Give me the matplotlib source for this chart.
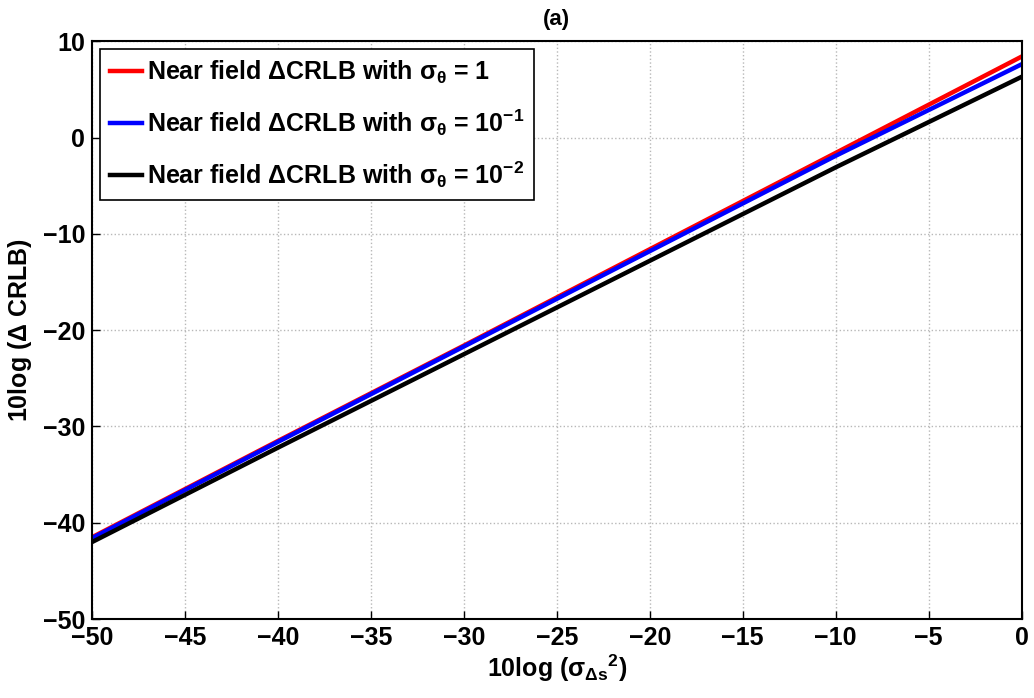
import matplotlib
matplotlib.use("Agg")
import matplotlib.pyplot as plt

plt.rcParams['font.family'] = ['Liberation Sans', 'DejaVu Sans']
plt.rcParams['font.weight'] = 'bold'
plt.rcParams['mathtext.fontset'] = 'custom'
plt.rcParams['mathtext.rm'] = 'Liberation Sans:bold'
plt.rcParams['mathtext.it'] = 'Liberation Sans:bold'
plt.rcParams['mathtext.bf'] = 'Liberation Sans:bold'
plt.rcParams['mathtext.sf'] = 'Liberation Sans:bold'

# values
x = [-50, -40, -30, -20, -10, 0]
crlb_s1 = [-41.5, -31.5, -21.6, -11.6, -1.6, 8.4]
crlb_s01 = [-41.6, -31.6, -21.7, -11.8, -1.9, 7.6]
crlb_s001 = [-42.0, -32.2, -22.5, -12.8, -3.1, 6.3]

labels = [r'Near field $\Delta$CRLB with $\sigma_\theta$ = 1',
          r'Near field $\Delta$CRLB with $\sigma_\theta$ = 10$^{-1}$',
          r'Near field $\Delta$CRLB with $\sigma_\theta$ = 10$^{-2}$']

fig = plt.figure(figsize=(10.34, 6.98), dpi=100)
ax = fig.add_axes([0.089, 0.113, 0.899, 0.828])

ax.plot(x, crlb_s1, color='red', lw=3.2, label=labels[0])
ax.plot(x, crlb_s01, color='blue', lw=3.2, label=labels[1])
ax.plot(x, crlb_s001, color='black', lw=3.2, label=labels[2])

ax.set_xlim(-50, 0)
ax.set_ylim(-50, 10)
ax.set_xticks(range(-50, 1, 5))
ax.set_yticks(range(-50, 11, 10))
ax.tick_params(direction='in', labelsize=18, length=6, width=1, pad=5)
for lab in ax.get_xticklabels() + ax.get_yticklabels():
    lab.set_fontweight('bold')
ax.grid(True, linestyle=':', color='#b8b8b8', lw=1)
for s in ax.spines.values():
    s.set_linewidth(1.5)

ax.set_xlabel(r'10log ($\sigma_{\Delta s}{}^2$)', fontsize=18, fontweight='bold', labelpad=2)
ax.set_ylabel(r'10log ($\Delta$ CRLB)', fontsize=18, fontweight='bold', labelpad=6)
ax.set_title('(a)', fontsize=16, fontweight='bold', pad=12)

leg = ax.legend(loc='upper left', fontsize=18, handlelength=1.3, handletextpad=0.2,
                borderaxespad=0.3, labelspacing=0.85, fancybox=False,
                framealpha=1, edgecolor='black', borderpad=0.4)
leg.get_frame().set_linewidth(1.2)
for t in leg.get_texts():
    t.set_fontweight('bold')

fig.savefig('out.png', dpi=100)
